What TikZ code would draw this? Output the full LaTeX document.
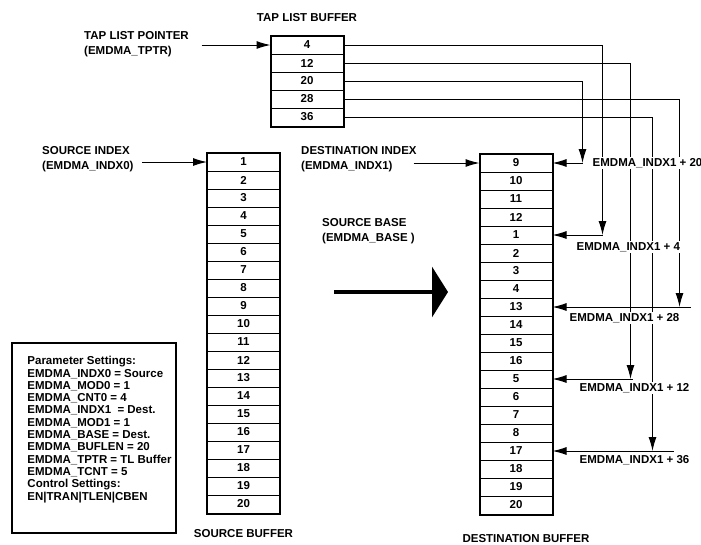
\documentclass[tikz,border=0pt]{standalone}
\usepackage{fontspec}
\setmainfont{Liberation Sans}[UprightFont={* Bold}, BoldFont={* Bold}]
\usetikzlibrary{arrows.meta, positioning}

\begin{document}
\begin{tikzpicture}[
    x=1pt, y=-1pt,
    % Styles
    cell/.style={
        rectangle,
        draw=black,
        line width=1pt,
        minimum width=72pt,
        minimum height=18pt,
        inner sep=0pt,
        font=\fontsize{11.5}{13}\selectfont\bfseries
    },
    bufframe/.style={
        draw=black,
        line width=2pt
    },
    note/.style={
        inner sep=0pt,
        align=left,
        anchor=west,
        font=\fontsize{11.5}{15}\selectfont\bfseries
    },
    title/.style={
        inner sep=0pt,
        font=\fontsize{11.5}{13}\selectfont\bfseries
    },
    offlabel/.style={
        fill=white,
        inner sep=1.5pt,
        anchor=west,
        font=\fontsize{11.5}{13}\selectfont\bfseries
    },
    arrow/.style={
        -{Latex[length=14pt,width=8pt]},
        line width=1pt
    },
    bigarrow/.style={
        -{Triangle[length=16pt,width=50pt]},
        line width=4pt
    }
]
\useasboundingbox (0,0) rectangle (701,544);

% Tap list buffer
\foreach \v [count=\i] in {4,12,20,28,36}
    \node[cell] (tap\i) at (307,{27+18*\i}) {\v};
\draw[bufframe] (tap1.north west) rectangle (tap5.south east);
\node[title, above=14pt of tap1] (taptitle) {TAP LIST BUFFER};

% Source buffer
\foreach \v [count=\i] in {1,...,20}
    \node[cell] (src\i) at (243.5,{144+18*\i}) {\v};
\draw[bufframe] (src1.north west) rectangle (src20.south east);
\node[title, below=16pt of src20] (srctitle) {SOURCE BUFFER};

% Destination buffer
\foreach \v [count=\i] in {9,10,11,12,1,2,3,4,13,14,15,16,5,6,7,8,17,18,19,20}
    \node[cell] (dst\i) at (516,{145+18*\i}) {\v};
\draw[bufframe] (dst1.north west) rectangle (dst20.south east);
\node[title, below=20pt of dst20, xshift=10pt] (dsttitle) {DESTINATION BUFFER};

% Pointer labels
\node[note] (tptr) at (84,44) {TAP LIST POINTER\\(EMDMA\_TPTR)};
\draw[arrow] ([xshift=-69pt]tap1.west) -- (tap1.west);

\node[note] (srcidx) at (42,159) {SOURCE INDEX\\(EMDMA\_INDX0)};
\draw[arrow] ([xshift=-65pt]src1.west) -- (src1.west);

\node[note] (dstidx) at (301,159) {DESTINATION INDEX\\(EMDMA\_INDX1)};
\draw[arrow] ([xshift=-66pt]dst1.west) -- (dst1.west);

\node[note] (srcbase) at (322,231) {SOURCE BASE\\(EMDMA\_BASE )};

% Big transfer arrow
\coordinate (bigtail) at (334,292);
\coordinate (bighead) at (448,292);
\draw[bigarrow] (bigtail) -- (bighead);

% Tap list entries to destination
\draw[arrow] (tap3.east) -| ([xshift=30pt]dst1.east);
\draw[arrow] ([xshift=30pt]dst1.east) -- (dst1.east);

\draw[arrow] (tap1.east) -| ([xshift=50pt]dst5.east);
\draw[arrow] ([xshift=50pt]dst5.east) -- (dst5.east);

\draw[arrow] (tap4.east) -| ([xshift=127pt]dst9.east);
\draw[arrow] ([xshift=138pt]dst9.east) -- (dst9.east);

\draw[arrow] (tap2.east) -| ([xshift=78pt]dst13.east);
\draw[arrow] ([xshift=80pt]dst13.east) -- (dst13.east);

\draw[arrow] (tap5.east) -| ([xshift=100pt]dst17.east);
\draw[arrow] ([xshift=121pt]dst17.east) -- (dst17.east);

% Offset labels
\node[offlabel] (off20) at ([xshift=38.5pt]dst1.east) {EMDMA\_INDX1 + 20};
\node[offlabel] (off4) at ([xshift=22.5pt,yshift=-12pt]dst5.east) {EMDMA\_INDX1 + 4};
\node[offlabel] (off28) at ([xshift=15.5pt,yshift=-11pt]dst9.east) {EMDMA\_INDX1 + 28};
\node[offlabel] (off12) at ([xshift=25.5pt,yshift=-9pt]dst13.east) {EMDMA\_INDX1 + 12};
\node[offlabel] (off36) at ([xshift=25.5pt,yshift=-9pt]dst17.east) {EMDMA\_INDX1 + 36};

% Parameter settings box
\node[draw, line width=1.5pt, minimum width=164pt, minimum height=190pt] (params) at (94,438) {};
\node[inner sep=0pt, align=left, anchor=north west, font=\fontsize{11.5}{12.3}\selectfont\bfseries]
    (paramlist) at ([xshift=16pt,yshift=-14pt]params.north west) {
    Parameter Settings:\\
    EMDMA\_INDX0 = Source\\
    EMDMA\_MOD0 = 1\\
    EMDMA\_CNT0 = 4\\
    EMDMA\_INDX1\ \ = Dest.\\
    EMDMA\_MOD1 = 1\\
    EMDMA\_BASE = Dest.\\
    EMDMA\_BUFLEN = 20\\
    EMDMA\_TPTR = TL Buffer\\
    EMDMA\_TCNT = 5\\
    Control Settings:\\
    EN|TRAN|TLEN|CBEN
};

\end{tikzpicture}
\end{document}
